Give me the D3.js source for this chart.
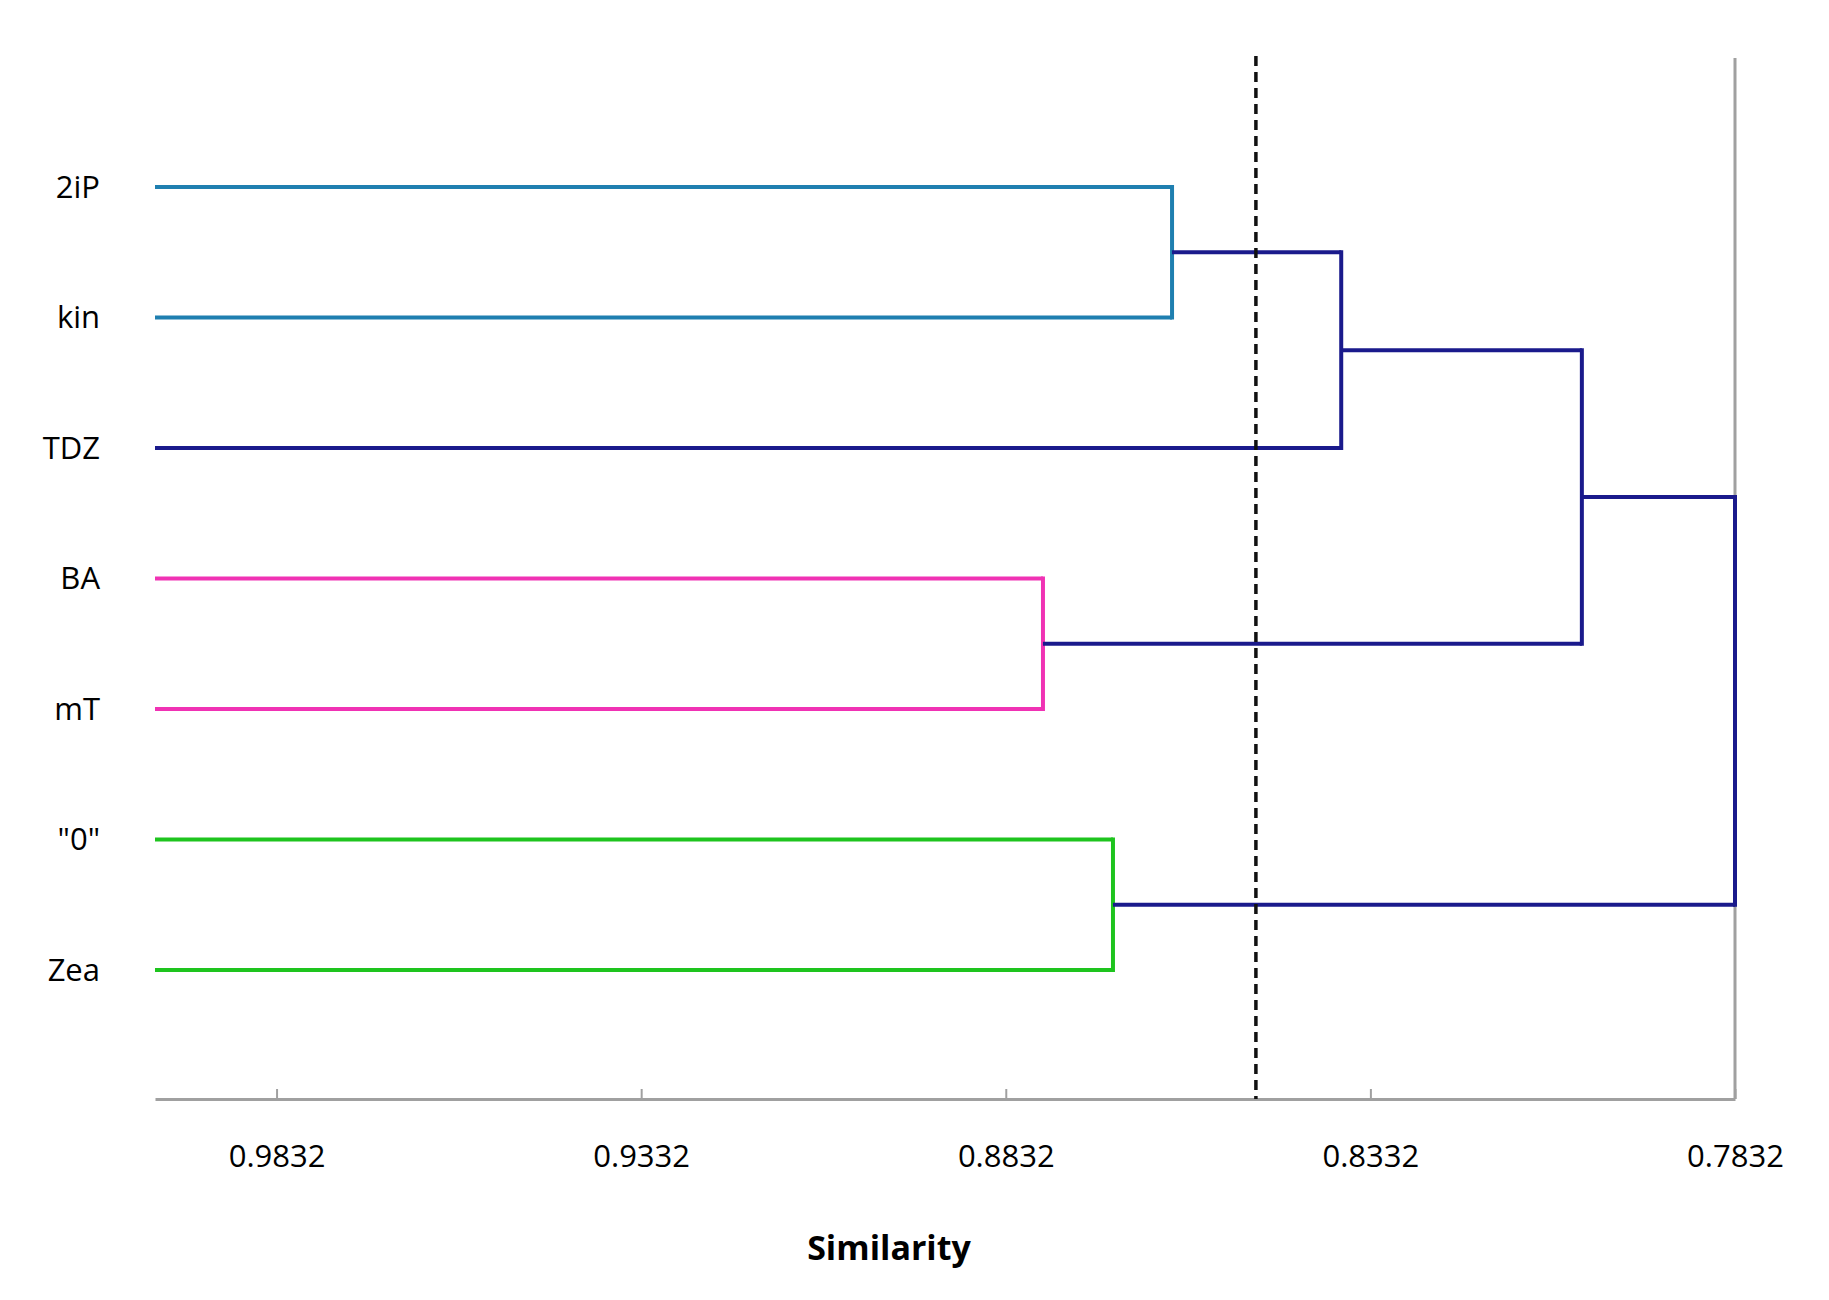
<!DOCTYPE html>
<html>
<head>
<meta charset="utf-8">
<script src="https://cdn.jsdelivr.net/npm/d3@7"></script>
<style>
  body { margin: 0; background: #fff; }
  text { font-family: "Open Sans", "Liberation Sans", sans-serif; }
</style>
</head>
<body>
<svg id="chart" width="1829" height="1300"></svg>
<script>
// leaves, top to bottom
const leaves = ["2iP", "kin", "TDZ", "BA", "mT", "\"0\"", "Zea"];
// merges: children (leaf names or merge ids), similarity level, colour
const mergeIds = ["m0", "m1", "m2", "m3", "m4", "m5"];
const mergeChildren = [["2iP", "kin"], ["m0", "TDZ"], ["BA", "mT"], ["m1", "m2"], ["\"0\"", "Zea"], ["m3", "m4"]];
const mergeHeights = [0.8604, 0.8372, 0.8781, 0.8042, 0.8685, 0.7832];
const mergeColors = ["#1f7fb0", "#1a1a8c", "#f032b4", "#1a1a8c", "#1ec41e", "#1a1a8c"];
const tickValues = [0.9832, 0.9332, 0.8832, 0.8332, 0.7832];
const cutoff = 0.8489;

const svg = d3.select("#chart");
const x = d3.scaleLinear().domain([0.99987, 0.7832]).range([155, 1735]);
const y = d3.scalePoint().domain(leaves).range([187, 970]);
const axisY = 1099, topY = 58;

// right boundary line (behind the tree)
svg.append("line").attr("x1", x(0.7832)).attr("x2", x(0.7832))
  .attr("y1", topY).attr("y2", axisY).attr("stroke", "#a0a0a0").attr("stroke-width", 3);

// node positions
const pos = {};
leaves.forEach(l => { pos[l] = { x: x(0.99987), y: y(l) }; });
mergeIds.forEach((id, i) => {
  const [a, b] = mergeChildren[i];
  const px = x(mergeHeights[i]);
  const col = mergeColors[i];
  [a, b].forEach(c => {
    svg.append("line").attr("x1", pos[c].x).attr("x2", px)
      .attr("y1", pos[c].y).attr("y2", pos[c].y)
      .attr("stroke", col).attr("stroke-width", 4);
  });
  svg.append("line").attr("x1", px).attr("x2", px)
    .attr("y1", pos[a].y).attr("y2", pos[b].y)
    .attr("stroke", col).attr("stroke-width", 4).attr("stroke-linecap", "square");
  pos[id] = { x: px, y: (pos[a].y + pos[b].y) / 2 };
});

// axis
const axis = svg.append("g").attr("transform", `translate(0,${axisY})`)
  .call(d3.axisBottom(x).tickValues(tickValues).tickSizeInner(-10).tickSizeOuter(0).tickFormat(d3.format(".4f")));
axis.select(".domain").attr("stroke", "#a0a0a0").attr("stroke-width", 3);
axis.selectAll(".tick line").attr("stroke", "#a0a0a0").attr("stroke-width", 2);
axis.selectAll(".tick text").attr("font-size", 31).attr("fill", "#000").attr("dy", 0).attr("y", 68);

// cutoff line
svg.append("line").attr("x1", x(cutoff)).attr("x2", x(cutoff))
  .attr("y1", 56).attr("y2", axisY).attr("stroke", "#111")
  .attr("stroke-width", 3.5).attr("stroke-dasharray", "10,6");

// leaf labels
svg.selectAll(".leaf").data(leaves).join("text")
  .attr("x", 100).attr("y", d => y(d)).attr("dy", "0.35em")
  .attr("text-anchor", "end").attr("font-size", 31).text(d => d);

// title
svg.append("text").attr("x", 889).attr("y", 1260).attr("text-anchor", "middle")
  .attr("font-size", 34).attr("font-weight", "bold").text("Similarity");
</script>
</body>
</html>
